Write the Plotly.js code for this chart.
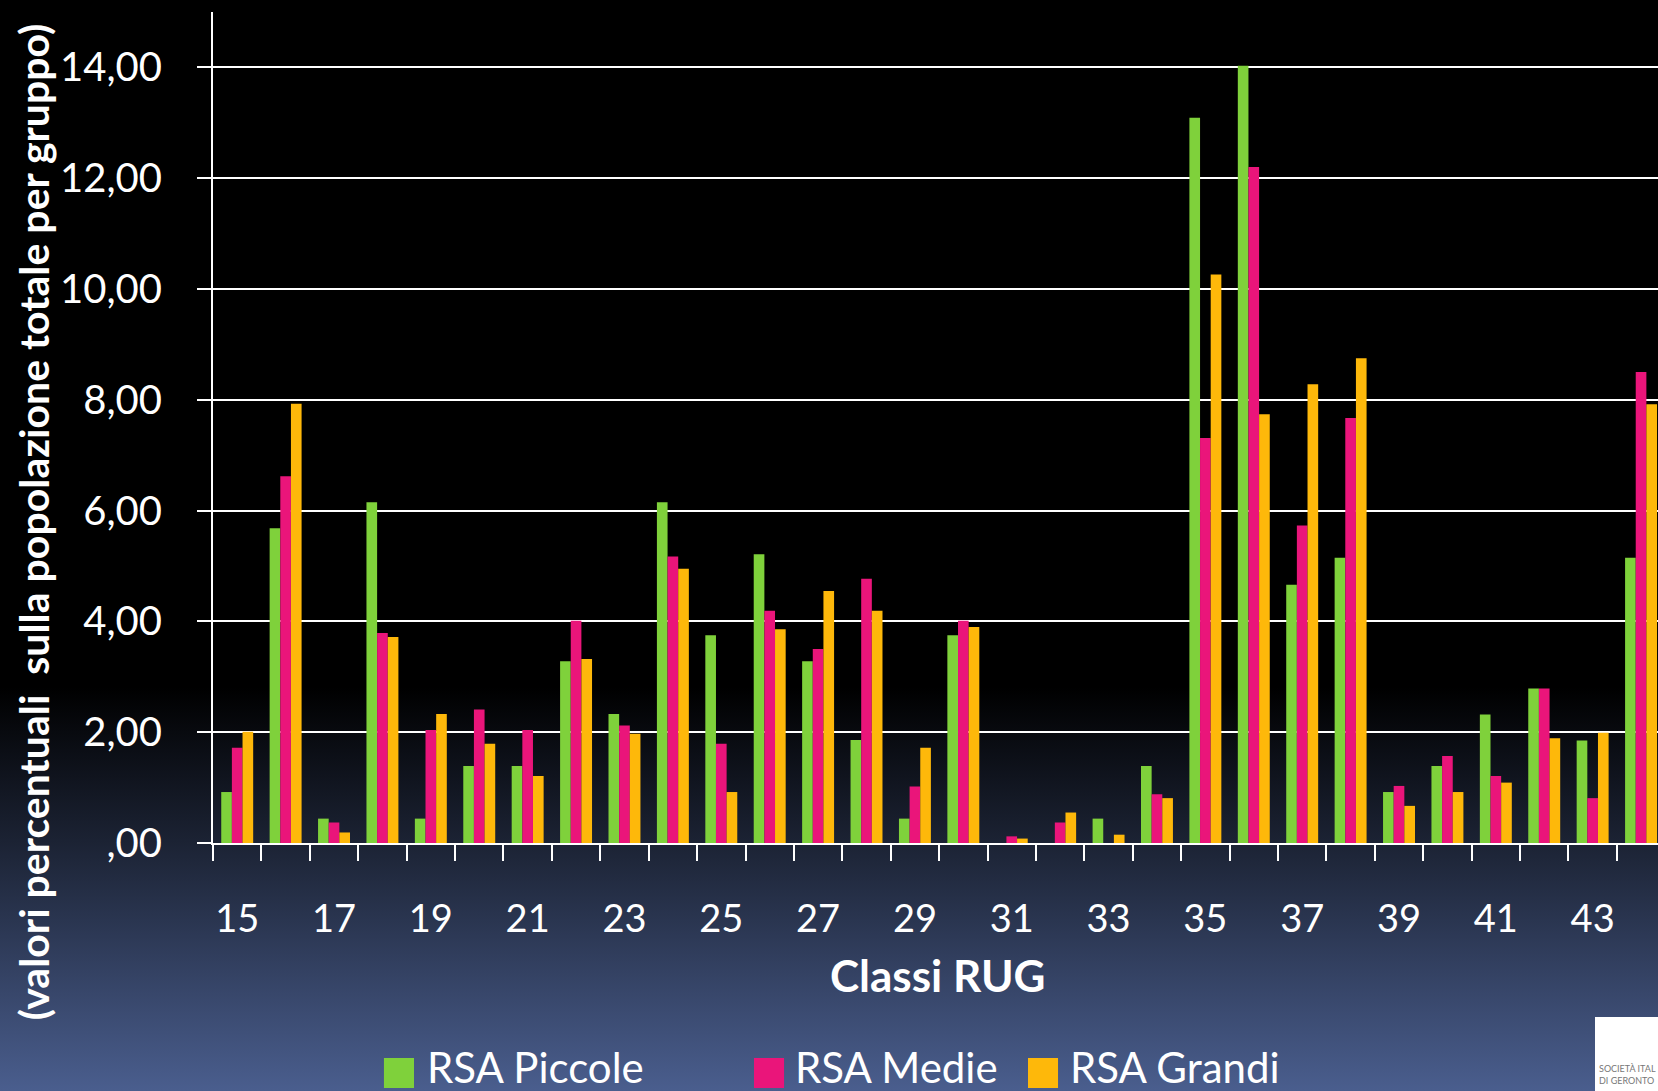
<!DOCTYPE html>
<html>
<head>
<meta charset="utf-8">
<script src="https://cdn.plot.ly/plotly-3.0.1.min.js"></script>
<style>
  html, body { margin: 0; padding: 0; }
  body {
    width: 1658px; height: 1091px; overflow: hidden;
    background: linear-gradient(to bottom, #000 0%, #000 63%, #1b2233 77%, #4a5e8e 100%);
  }
  #graph { width: 1658px; height: 1091px; }
</style>
</head>
<body>
<div id="graph"></div>
<script>
// Classi RUG (x categories)
const classi = [15, 16, 17, 18, 19, 20, 21, 22, 23, 24, 25, 26, 27, 28, 29,
                30, 31, 32, 33, 34, 35, 36, 37, 38, 39, 40, 41, 42, 43, 44];

// percent of total population per group
const rsaPiccole = [0.92, 5.68, 0.44, 6.15, 0.44, 1.39, 1.39, 3.28, 2.33, 6.15,
                    3.75, 5.21, 3.28, 1.86, 0.44, 3.75, 0.00, 0.00, 0.44, 1.39,
                    13.09, 14.03, 4.66, 5.15, 0.92, 1.39, 2.32, 2.79, 1.85, 5.15];
const rsaMedie = [1.72, 6.62, 0.37, 3.79, 2.04, 2.41, 2.04, 4.01, 2.12, 5.17,
                  1.79, 4.19, 3.50, 4.77, 1.02, 4.01, 0.12, 0.37, 0.00, 0.88,
                  7.31, 12.20, 5.73, 7.67, 1.03, 1.57, 1.21, 2.79, 0.81, 8.50];
const rsaGrandi = [2.01, 7.93, 0.19, 3.72, 2.33, 1.79, 1.21, 3.32, 1.97, 4.95,
                   0.92, 3.86, 4.55, 4.19, 1.72, 3.90, 0.08, 0.55, 0.15, 0.81,
                   10.26, 7.74, 8.28, 8.75, 0.67, 0.92, 1.09, 1.89, 1.99, 7.92];

const seriesNames = ['RSA Piccole', 'RSA Medie', 'RSA Grandi'];
const seriesColors = ['#7FD13B', '#EA157A', '#FEB80A'];

// y axis ticks (Italian format)
const yTickVals = [0, 2, 4, 6, 8, 10, 12, 14];
const yTickText = [',00', '2,00', '4,00', '6,00', '8,00', '10,00', '12,00', '14,00'];

const FONT = 'Lato, "Open Sans", sans-serif';

const seriesValues = [rsaPiccole, rsaMedie, rsaGrandi];
const data = seriesValues.map((vals, i) => ({
  type: 'bar',
  x: classi,
  y: vals,
  name: seriesNames[i],
  marker: { color: seriesColors[i] },
  hoverinfo: 'x+y+name'
}));

// legend drawn below the chart: big square swatch + label
const legendSquareX = [0.1183, 0.3744, 0.5640];
const legendTextX = [0.1467, 0.4014, 0.5917];
const shapes = seriesNames.map((n, i) => ({
  type: 'rect', xref: 'paper', yref: 'paper',
  x0: legendSquareX[i], x1: legendSquareX[i] + 0.0208,
  y0: -0.2948, y1: -0.2587,
  fillcolor: seriesColors[i], line: { width: 0 }
}));
// logo box bottom right (cropped in the original slide)
shapes.push({
  type: 'rect', xref: 'paper', yref: 'paper',
  x0: 0.9564, x1: 1.0, y0: -0.2094, y1: -0.31,
  fillcolor: '#ffffff', line: { width: 0 }
});

const annotations = seriesNames.map((n, i) => ({
  xref: 'paper', yref: 'paper',
  x: legendTextX[i], y: -0.2690,
  xanchor: 'left', yanchor: 'middle',
  text: n, showarrow: false,
  font: { family: FONT, size: 42, color: '#ffffff' }
}));

annotations.push({
  xref: 'paper', yref: 'paper', x: -0.1246, y: 0.3860,
  xanchor: 'center', yanchor: 'middle', textangle: -90,
  text: '<b>(valori percentuali  sulla popolazione totale per gruppo)</b>',
  showarrow: false,
  font: { family: FONT, size: 41, color: '#ffffff' }
});
annotations.push({
  xref: 'paper', yref: 'paper', x: 0.5017, y: -0.1588,
  xanchor: 'center', yanchor: 'middle',
  text: '<b>Classi RUG</b>', showarrow: false,
  font: { family: FONT, size: 44, color: '#ffffff' }
});
annotations.push({
  xref: 'paper', yref: 'paper', x: 0.9580, y: -0.2780,
  xanchor: 'left', yanchor: 'middle', align: 'left',
  text: 'SOCIETÀ ITAL<br>DI GERONTO', showarrow: false,
  font: { family: FONT, size: 9, color: '#777777' }
});

const layout = {
  width: 1658,
  height: 1091,
  margin: { l: 213, r: 0, t: 12, b: 248 },
  paper_bgcolor: 'rgba(0,0,0,0)',
  plot_bgcolor: 'rgba(0,0,0,0)',
  barmode: 'group',
  bargap: 0.34,
  bargroupgap: 0,
  showlegend: false,
  font: { family: FONT, color: '#ffffff' },
  xaxis: {
    type: 'linear',
    range: [14.5, 44.35],
    tickmode: 'linear', tick0: 15, dtick: 2,
    ticks: '',
    ticklabelstandoff: 41,
    tickfont: { family: FONT, size: 38, color: '#ffffff' },
    showgrid: false,
    zeroline: false,
    showline: true, linecolor: '#ffffff', linewidth: 2,
    minor: { tick0: 14.5, dtick: 1, ticks: 'outside', ticklen: 16, tickwidth: 2, tickcolor: '#ffffff', showgrid: false }
  },
  yaxis: {
    range: [0, 15],
    tickmode: 'array', tickvals: yTickVals, ticktext: yTickText,
    ticks: 'outside', ticklen: 14, tickwidth: 2, tickcolor: '#ffffff',
    ticklabelstandoff: 27,
    tickfont: { family: FONT, size: 40, color: '#ffffff' },
    showgrid: true, gridcolor: '#ffffff', gridwidth: 2,
    zeroline: false,
    showline: true, linecolor: '#ffffff', linewidth: 2
  },
  shapes: shapes,
  annotations: annotations
};

Plotly.newPlot('graph', data, layout, { displayModeBar: false, staticPlot: true });
</script>
</body>
</html>
